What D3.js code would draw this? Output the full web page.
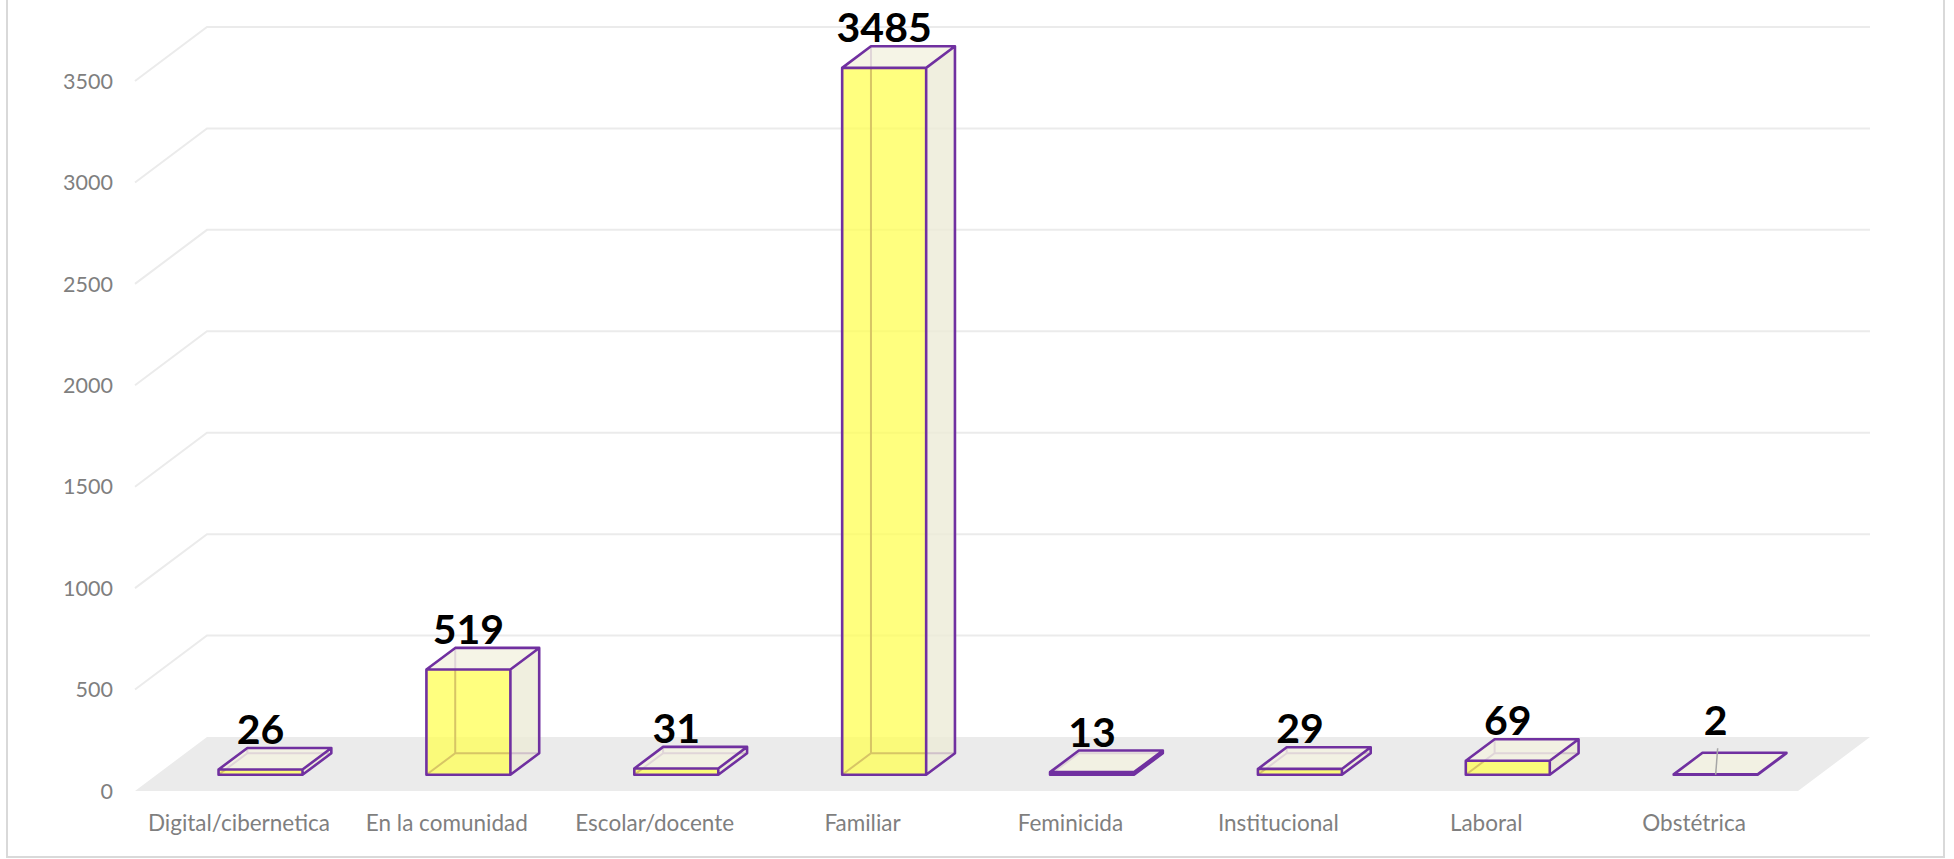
<!DOCTYPE html>
<html>
<head>
<meta charset="utf-8">
<script src="https://cdn.jsdelivr.net/npm/d3@7"></script>
<style>
  html, body { margin: 0; padding: 0; background: #fff; }
  svg { display: block; }
</style>
</head>
<body>
<svg id="chart" width="1954" height="859"></svg>
<script>
const categories = ["Digital/cibernetica", "En la comunidad", "Escolar/docente", "Familiar",
                    "Feminicida", "Institucional", "Laboral", "Obstétrica"];
const values = [26, 519, 31, 3485, 13, 29, 69, 2];
const yTicks = [0, 500, 1000, 1500, 2000, 2500, 3000, 3500];

const svg = d3.select("#chart");

// front plane of the floor, depth offset of the 3d box
const front = { left: 135, right: 1798, bottom: 791, top: 81 };
const depth = { dx: 72, dy: -54 };

const x = d3.scaleBand().domain(categories).range([front.left, front.right]).padding(0);
const y = d3.scaleLinear().domain([0, 3500]).range([front.bottom, front.top]);

// outer border
svg.append("rect")
  .attr("x", 7).attr("y", -5).attr("width", 1937).attr("height", 862)
  .attr("fill", "none").attr("stroke", "#d9d9d9").attr("stroke-width", 2);

// gridlines: back wall + side wall
const grid = svg.append("g").attr("stroke", "#ebebeb").attr("stroke-width", 2).attr("fill", "none");
yTicks.filter(d => d > 0).forEach(t => {
  const yf = y(t), yb = y(t) + depth.dy;
  grid.append("path").attr("d", `M${front.left},${yf}L${front.left + depth.dx},${yb}L${front.right + depth.dx},${yb}`);
});

// floor
svg.append("path")
  .attr("d", `M${front.left},${front.bottom}L${front.right},${front.bottom}` +
             `L${front.right + depth.dx},${front.bottom + depth.dy}L${front.left + depth.dx},${front.bottom + depth.dy}Z`)
  .attr("fill", "#ebebeb");

// y tick labels
svg.append("g").selectAll("text")
  .data(yTicks).enter().append("text")
  .attr("x", 113).attr("y", d => y(d))
  .attr("dy", "0.36em")
  .attr("text-anchor", "end")
  .attr("font-family", "Lato, sans-serif").attr("font-size", 21.5)
  .attr("fill", "#7f7f7f")
  .text(d => d);

// category labels
svg.append("g").selectAll("text")
  .data(categories).enter().append("text")
  .attr("x", d => x(d) + x.bandwidth() / 2).attr("y", 831)
  .attr("text-anchor", "middle")
  .attr("font-family", "Lato, sans-serif").attr("font-size", 22.5)
  .attr("fill", "#7f7f7f")
  .text(d => d);

// bars as boxes
const barW = x.bandwidth() * 0.404;
const bdx = depth.dx * 0.4, bdy = depth.dy * 0.4;
const ox = depth.dx * 0.3, oy = depth.dy * 0.3;
const purple = "#7030a0";

const bars = svg.append("g");
categories.forEach((c, i) => {
  const v = values[i];
  const x0 = x(c) + (x.bandwidth() - barW) / 2 + ox;
  const x1 = x0 + barW;
  const yb = front.bottom + oy;
  const h = front.bottom - y(v);
  const yt = yb - h;
  const g = bars.append("g");

  // hidden edges (seen through the translucent faces)
  g.append("path")
    .attr("d", `M${x0},${yb}L${x0 + bdx},${yb + bdy}L${x1 + bdx},${yb + bdy}M${x0 + bdx},${yb + bdy}L${x0 + bdx},${yt + bdy}`)
    .attr("fill", "none").attr("stroke", purple).attr("stroke-width", 2);

  // right side
  g.append("path")
    .attr("d", `M${x1},${yb}L${x1 + bdx},${yb + bdy}L${x1 + bdx},${yt + bdy}L${x1},${yt}Z`)
    .attr("fill", "#ecebd6").attr("fill-opacity", 0.78);
  // top
  g.append("path")
    .attr("d", `M${x0},${yt}L${x1},${yt}L${x1 + bdx},${yt + bdy}L${x0 + bdx},${yt + bdy}Z`)
    .attr("fill", "#f3f2e2").attr("fill-opacity", 0.85);
  // front
  g.append("rect")
    .attr("x", x0).attr("y", yt).attr("width", barW).attr("height", h)
    .attr("fill", "#ffff4d").attr("fill-opacity", 0.72);

  // visible edges
  g.append("path")
    .attr("d", `M${x0},${yb}L${x1},${yb}L${x1},${yt}L${x0},${yt}Z` +
               `M${x1},${yb}L${x1 + bdx},${yb + bdy}L${x1 + bdx},${yt + bdy}L${x1},${yt}` +
               `M${x0},${yt}L${x0 + bdx},${yt + bdy}L${x1 + bdx},${yt + bdy}`)
    .attr("fill", "none").attr("stroke", purple).attr("stroke-width", 2.6).attr("stroke-linejoin", "round");

  let lift = 4;
  if (v < 5) {
    // little leader line as in the original
    const cx = (x0 + x1) / 2;
    g.append("line")
      .attr("x1", cx).attr("y1", yb).attr("x2", cx + 2).attr("y2", yb + bdy - 5)
      .attr("stroke", "#a6a6a6").attr("stroke-width", 1.5);
    lift = 18;
  }

  // value label
  g.append("text")
    .attr("x", (x0 + x1) / 2).attr("y", yt + bdy - lift)
    .attr("text-anchor", "middle")
    .attr("font-family", "Lato, sans-serif").attr("font-weight", "bold").attr("font-size", 41)
    .attr("fill", "#000")
    .text(v);
});
</script>
</body>
</html>
